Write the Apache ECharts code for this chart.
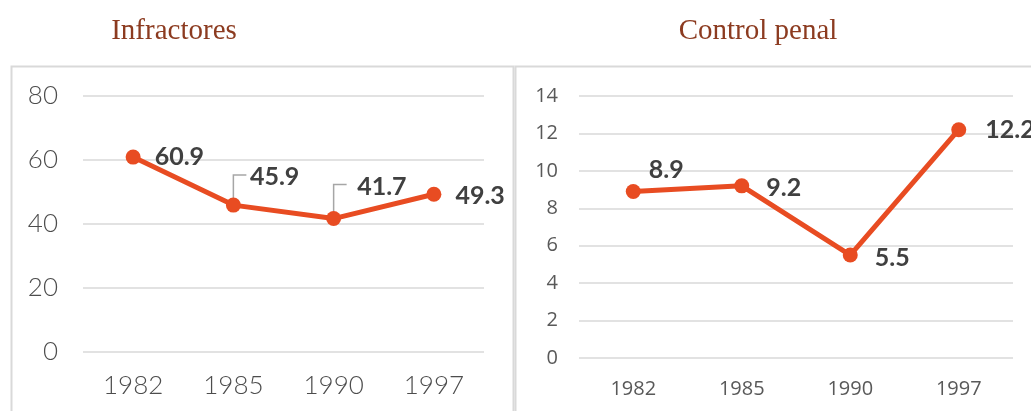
<!DOCTYPE html>
<html>
<head>
<meta charset="utf-8">
<script src="https://cdn.jsdelivr.net/npm/echarts@6/dist/echarts.min.js"></script>
<style>
  html, body { margin: 0; padding: 0; background: #fff; }
  #chart { width: 1031px; height: 411px; }
</style>
</head>
<body>
<div id="chart"></div>
<script>
  // datos
  var years = ['1982', '1985', '1990', '1997'];
  var infractores = [60.9, 45.9, 41.7, 49.3];
  var controlPenal = [8.9, 9.2, 5.5, 12.2];
  var leaderIdx = [1, 2]; // etiquetas de Infractores con línea guía

  // desplazamiento de etiquetas (px)
  var offsetsInf = [[-1, 0], [-6, -28], [1, -32], [-1, 2]];
  var offsetsCtl = [[-7, -22], [2, 2], [2, 3], [4, 0]];

  var lineColor = '#e84c22';
  var gridColor = '#d9d9d9';

  var myChart = echarts.init(document.getElementById('chart'));

  function makeData(values, offsets) {
    return values.map(function (v, i) {
      return { value: v, label: { offset: offsets[i] } };
    });
  }

  var option = {
    backgroundColor: '#fff',
    animation: false,
    title: [
      {
        text: 'Infractores', left: 169, top: 12, textAlign: 'center',
        textStyle: { fontFamily: 'Liberation Serif', fontSize: 29, fontWeight: 'normal', color: '#8c3b20' }
      },
      {
        text: 'Control penal', left: 753, top: 12, textAlign: 'center',
        textStyle: { fontFamily: 'Liberation Serif', fontSize: 29, fontWeight: 'normal', color: '#8c3b20' }
      }
    ],
    graphic: [
      { type: 'rect', shape: { x: 11.5, y: 66.5, width: 502, height: 400 }, style: { fill: 'none', stroke: gridColor, lineWidth: 2 }, silent: true },
      { type: 'rect', shape: { x: 515.5, y: 66.5, width: 540, height: 400 }, style: { fill: 'none', stroke: gridColor, lineWidth: 2 }, silent: true }
    ],
    grid: [
      { left: 83, right: 547, top: 96, bottom: 59 },
      { left: 579, right: 18, top: 96, bottom: 53 }
    ],
    xAxis: [
      {
        type: 'category', gridIndex: 0, data: years,
        axisLine: { show: false }, axisTick: { show: false },
        axisLabel: { margin: 21, fontFamily: 'Lato', fontWeight: 300, fontSize: 26, color: '#4d4d4d' }
      },
      {
        type: 'category', gridIndex: 1, data: years,
        axisLine: { show: false }, axisTick: { show: false },
        axisLabel: { margin: 21, fontFamily: 'Open Sans', fontSize: 20, color: '#595959' }
      }
    ],
    yAxis: [
      {
        type: 'value', gridIndex: 0, min: 0, max: 80, interval: 20,
        axisLine: { show: false }, axisTick: { show: false },
        splitLine: { lineStyle: { color: gridColor, width: 1.5 } },
        axisLabel: { margin: 25, fontFamily: 'Lato', fontWeight: 300, fontSize: 26, color: '#4d4d4d' }
      },
      {
        type: 'value', gridIndex: 1, min: 0, max: 14, interval: 2,
        axisLine: { show: false }, axisTick: { show: false },
        splitLine: { lineStyle: { color: gridColor, width: 1.5 } },
        axisLabel: { margin: 21, fontFamily: 'Open Sans', fontSize: 20, color: '#595959' }
      }
    ],
    series: [
      {
        // líneas guía de las etiquetas
        type: 'custom', xAxisIndex: 0, yAxisIndex: 0, silent: true, z: 1,
        data: leaderIdx.map(function (i) { return [i, infractores[i], offsetsInf[i][1]]; }),
        renderItem: function (params, api) {
          var p = api.coord([api.value(0), api.value(1)]);
          var top = p[1] + api.value(2) - 2;
          return {
            type: 'polyline',
            shape: { points: [[p[0], p[1]], [p[0], top], [p[0] + 13, top]] },
            style: { stroke: '#a6a6a6', lineWidth: 1.5, fill: 'none' }
          };
        }
      },
      {
        name: 'Infractores', type: 'line', xAxisIndex: 0, yAxisIndex: 0, z: 3,
        data: makeData(infractores, offsetsInf),
        symbol: 'circle', symbolSize: 15,
        lineStyle: { color: lineColor, width: 5 },
        itemStyle: { color: lineColor },
        label: {
          show: true, position: 'right', distance: 15,
          fontFamily: 'Lato', fontWeight: 'bold', fontSize: 25, color: '#404040'
        }
      },
      {
        name: 'Control penal', type: 'line', xAxisIndex: 1, yAxisIndex: 1, z: 3,
        data: makeData(controlPenal, offsetsCtl),
        symbol: 'circle', symbolSize: 15,
        lineStyle: { color: lineColor, width: 5 },
        itemStyle: { color: lineColor },
        label: {
          show: true, position: 'right', distance: 15,
          fontFamily: 'Lato', fontWeight: 'bold', fontSize: 25, color: '#404040'
        }
      }
    ]
  };

  myChart.setOption(option);
</script>
</body>
</html>
